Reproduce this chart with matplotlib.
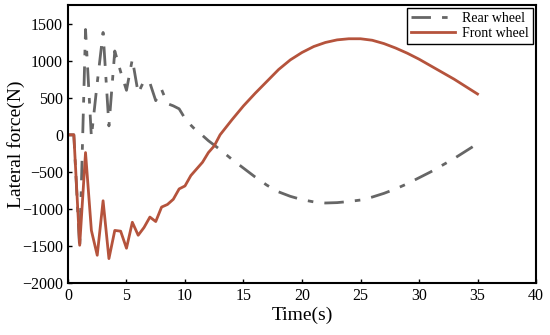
import numpy as np
import matplotlib.pyplot as plt

plt.rcParams['font.family'] = ['Liberation Serif', 'DejaVu Serif']

# time (s)
t_early = [0, 0.5, 1, 1.5, 2, 2.5, 3, 3.5, 4, 4.5, 5, 5.5, 6, 6.5, 7, 7.5, 8,
           8.5, 9, 9.5, 10, 10.5, 11, 11.5, 12, 12.5]
t_late = [13, 14, 15, 16, 17, 18, 19, 20, 21, 22, 23, 24, 25, 26, 27, 28, 29,
          30, 31, 32, 33, 34, 35]
time = t_early + t_late

# rear wheel lateral force (N)
rear = [0, 0, -1540, 1420, -30, 700, 1380, 120, 1130, 850, 600, 1020, 560,
        730, 700, 460, 610, 420, 390, 350, 220, 130, 50, -10, -80, -140,
        -200, -330, -450, -570, -680, -770, -830, -875, -905, -920, -915,
        -900, -880, -840, -790, -730, -660, -580, -500, -410, -320, -220, -120]

# front wheel lateral force (N)
front = [0, 0, -1490, -240, -1290, -1625, -890, -1670, -1290, -1300, -1530,
         -1180, -1355, -1250, -1110, -1170, -975, -940, -870, -730, -690,
         -550, -460, -370, -240, -150,
         0, 200, 390, 560, 720, 880, 1010, 1110, 1190, 1245, 1280, 1295,
         1295, 1275, 1230, 1170, 1100, 1020, 930, 840, 750, 650, 550]

fig = plt.figure(figsize=(5.5, 3.35), dpi=100)
ax = fig.add_axes([0.1236, 0.155, 0.851, 0.83])

ax.plot(time, rear, color='#666666', lw=2, linestyle=(0, (7, 4, 2, 4)),
        label='Rear wheel')
ax.plot(time, front, color='#B5533C', lw=2, label='Front wheel')

ax.set_xlim(0, 40)
ax.set_ylim(-2000, 1750)
ax.set_xticks(np.arange(0, 41, 5))
ax.set_yticks(np.arange(-2000, 1501, 500))
ax.set_yticklabels([str(v).replace('-', '\u2212') for v in range(-2000, 1501, 500)])
ax.tick_params(direction='in', labelsize=11.5, length=3, width=1)
for s in ax.spines.values():
    s.set_linewidth(1.5)

ax.set_xlabel('Time(s)', fontsize=14, labelpad=2)
ax.set_ylabel('Lateral force(N)', fontsize=14)
ax.yaxis.set_label_coords(-0.092, 0.5)

leg = ax.legend(loc='upper right', fontsize=10, fancybox=False,
                edgecolor='black', framealpha=1, borderpad=0.3,
                handlelength=3.2, handletextpad=0.5, labelspacing=0.15,
                borderaxespad=0.2)
leg.get_frame().set_linewidth(1)

fig.savefig('out.png', dpi=100)
